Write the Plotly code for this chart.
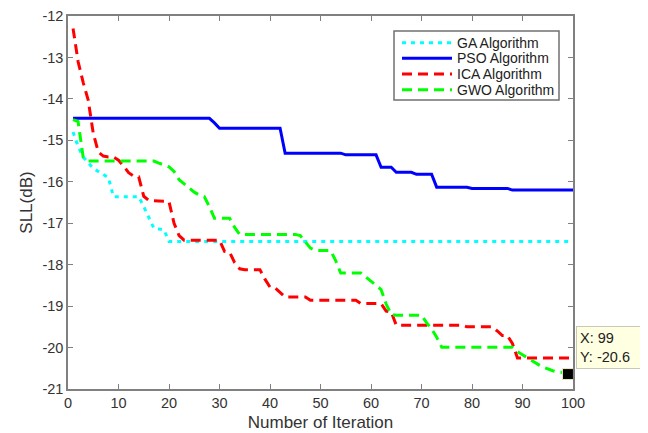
import plotly.graph_objects as go

iterations = list(range(1, 101))

ga = ([-14.8, -15.15, -15.4, -15.55, -15.68, -15.75, -15.82, -15.9, -16.36]
      + [-16.36] * 5
      + [-16.6, -16.85, -17.12, -17.14, -17.16, -17.44]
      + [-17.44] * 80)

pso = ([-14.47] * 28 + [-14.58] + [-14.71] * 13
       + [-15.31] * 12 + [-15.35] * 7 + [-15.65] * 3 + [-15.77] * 4
       + [-15.82] * 4 + [-16.13] * 7 + [-16.16] * 8 + [-16.2] * 13)

ica = ([-12.3, -13.1, -13.6, -14.03, -14.83, -15.28, -15.38, -15.4, -15.4,
        -15.48, -15.62, -15.78, -15.86, -15.88, -16.35, -16.45, -16.46,
        -16.46, -16.47, -16.48, -17.0, -17.3]
       + [-17.41] * 8
       + [-17.68, -17.7, -17.95, -18.1]
       + [-18.12] * 4
       + [-18.35, -18.54, -18.56, -18.68]
       + [-18.78] * 5
       + [-18.86] * 10
       + [-18.94] * 5
       + [-19.12, -19.14]
       + [-19.46] * 14
       + [-19.5] * 6
       + [-19.6, -19.71, -19.71, -19.9]
       + [-20.25] * 12)

gwo = ([-14.5, -14.55, -15.4]
       + [-15.5] * 14
       + [-15.55, -15.6, -15.64, -15.75, -15.95, -16.05, -16.15, -16.25,
          -16.32, -16.36, -16.6]
       + [-16.88] * 4
       + [-17.1]
       + [-17.27] * 12
       + [-17.3, -17.45, -17.6]
       + [-17.66] * 4
       + [-17.9]
       + [-18.2] * 5
       + [-18.3, -18.4, -18.5, -18.6, -18.95, -19.2]
       + [-19.22] * 6
       + [-19.4, -19.55, -19.75]
       + [-19.99] * 15
       + [-20.1, -20.18, -20.25, -20.33, -20.4, -20.47, -20.52, -20.56,
          -20.59, -20.6, -20.64, -20.64])

series_names = ["GA Algorithm", "PSO Algorithm", "ICA Algorithm", "GWO Algorithm"]
tip_index = 98  # iteration 99 on the GWO curve

x_ticks = list(range(0, 101, 10))
x_ticktext = [str(v) for v in x_ticks]
y_ticks = list(range(-21, -11, 1))
y_ticktext = [str(v) for v in y_ticks]  # ASCII hyphen like the original

FONT = "Liberation Sans, Arial, sans-serif"

styles = [
    dict(color="#00FFFF", width=3, dash="4px,5px"),
    dict(color="#0000FF", width=3),
    dict(color="#FF0000", width=3, dash="10px,6px"),
    dict(color="#00FF00", width=3, dash="10px,6px"),
]
all_series = [ga, pso, ica, gwo]

fig = go.Figure()
for name, ys, st in zip(series_names, all_series, styles):
    fig.add_trace(go.Scatter(x=iterations, y=ys, mode="lines", name=name,
                             line=st, showlegend=False))

tx = iterations[tip_index]
ty = gwo[tip_index]
fig.add_trace(go.Scatter(x=[tx], y=[ty], mode="markers", showlegend=False,
                         marker=dict(symbol="square", size=11, color="black",
                                     line=dict(color="#f0ecc0", width=1))))
fig.add_annotation(x=tx, y=ty, xref="x", yref="y", showarrow=False,
                   text=f"X: {tx}<br>Y: {ty:.1f}", align="left", width=70,
                   xanchor="left", yanchor="middle", xshift=8, yshift=27,
                   bgcolor="#FFFFE1", bordercolor="#C8C8B4", borderwidth=1,
                   borderpad=3,
                   font=dict(family=FONT, size=14.5, color="#222"))

# ---- legend box drawn in the plot (matching the compact MATLAB legend) ----
PL, PW, PT, PH = 68, 505, 16, 373   # plot area in page pixels
def px_x(p):
    return (p - PL) / PW
def px_y(p):
    return 1 - (p - PT) / PH

box = dict(x0=394, x1=559, y0=31, y1=100)
fig.add_shape(type="rect", xref="paper", yref="paper",
              x0=px_x(box["x0"]), x1=px_x(box["x1"]),
              y0=px_y(box["y1"]), y1=px_y(box["y0"]),
              line=dict(color="#707070", width=1.5), fillcolor="white",
              layer="above")
row_y = [42.7, 58.3, 74.0, 89.7]
for name, st, ry in zip(series_names, styles, row_y):
    fig.add_shape(type="line", xref="paper", yref="paper",
                  x0=px_x(402), x1=px_x(452), y0=px_y(ry), y1=px_y(ry),
                  line=st, layer="above")
    fig.add_annotation(x=px_x(455), y=px_y(ry), xref="paper", yref="paper",
                       text=name, showarrow=False, xanchor="left",
                       yanchor="middle",
                       font=dict(family=FONT, size=14, color="#222"))

axis_common = dict(showline=True, linecolor="#808080", linewidth=1.5,
                   mirror="ticks", ticks="inside", ticklen=5,
                   tickcolor="#808080", tickwidth=1, showgrid=False,
                   zeroline=False, automargin=False,
                   tickfont=dict(family=FONT, size=14.5, color="#333"))

fig.update_xaxes(range=[0, 100], tickvals=x_ticks, ticktext=x_ticktext,
                 title=dict(text="Number of Iteration", standoff=6,
                            font=dict(family=FONT, size=17, color="#333")),
                 **axis_common)
fig.update_yaxes(range=[-21, -12], tickvals=y_ticks, ticktext=y_ticktext,
                 title=dict(text="SLL(dB)", standoff=5,
                            font=dict(family=FONT, size=17, color="#333")),
                 **axis_common)

fig.update_layout(
    width=640, height=425,
    margin=dict(l=60, r=75, t=8, b=44),
    plot_bgcolor="white", paper_bgcolor="white",
    showlegend=False,
)

fig.write_html("out.html")
